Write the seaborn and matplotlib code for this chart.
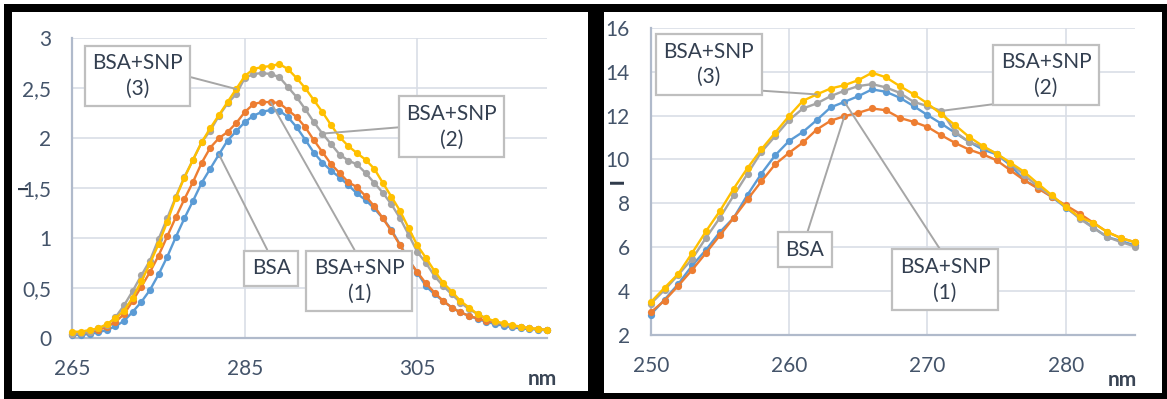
import numpy as np
import pandas as pd
import matplotlib
matplotlib.use("Agg")
import matplotlib.pyplot as plt
from matplotlib.patches import Rectangle
import seaborn as sns

# ---------------- data ----------------
wl_left = list(range(265, 321))
bsa_left = [0.033, 0.033, 0.043, 0.059, 0.083, 0.119, 0.175, 0.264, 0.363, 0.482,
            0.638, 0.813, 1.011, 1.199, 1.374, 1.553, 1.695, 1.837, 1.976, 2.068,
            2.16, 2.223, 2.263, 2.28, 2.275, 2.21, 2.11, 1.985, 1.855, 1.755,
            1.675, 1.606, 1.53, 1.447, 1.381, 1.298, 1.199, 1.084, 0.935, 0.786,
            0.654, 0.522, 0.439, 0.373, 0.307, 0.258, 0.225, 0.192, 0.165, 0.142,
            0.126, 0.109, 0.099, 0.093, 0.086, 0.079]
snp1_left = [0.043, 0.05, 0.06, 0.086, 0.109, 0.165, 0.241, 0.373, 0.515, 0.661,
             0.826, 1.017, 1.209, 1.391, 1.563, 1.753, 1.905, 2.0, 2.06, 2.15,
             2.26, 2.34, 2.36, 2.36, 2.35, 2.28, 2.21, 2.11, 1.98, 1.86,
             1.74, 1.65, 1.56, 1.51, 1.42, 1.32, 1.20, 1.07, 0.93, 0.78,
             0.661, 0.548, 0.456, 0.373, 0.307, 0.258, 0.225, 0.198, 0.175, 0.159,
             0.142, 0.126, 0.109, 0.099, 0.093, 0.083]
snp2_left = [0.043, 0.05, 0.066, 0.099, 0.132, 0.208, 0.330, 0.472, 0.628, 0.776,
             0.991, 1.199, 1.414, 1.612, 1.784, 1.959, 2.075, 2.223, 2.346, 2.44,
             2.60, 2.64, 2.65, 2.64, 2.61, 2.51, 2.41, 2.29, 2.16, 2.045,
             1.94, 1.835, 1.775, 1.738, 1.652, 1.553, 1.454, 1.338, 1.199, 1.034,
             0.862, 0.753, 0.621, 0.522, 0.439, 0.357, 0.291, 0.241, 0.198, 0.165,
             0.142, 0.126, 0.109, 0.099, 0.089, 0.083]
snp3_left = [0.066, 0.066, 0.083, 0.099, 0.142, 0.198, 0.277, 0.406, 0.568, 0.747,
             0.942, 1.163, 1.404, 1.606, 1.784, 1.959, 2.10, 2.23, 2.36, 2.49,
             2.62, 2.69, 2.71, 2.72, 2.74, 2.69, 2.60, 2.50, 2.38, 2.26,
             2.13, 2.01, 1.92, 1.85, 1.784, 1.695, 1.553, 1.414, 1.272, 1.10,
             0.928, 0.803, 0.671, 0.555, 0.466, 0.373, 0.307, 0.241, 0.198, 0.172,
             0.149, 0.132, 0.116, 0.102, 0.093, 0.083]

wl_right = list(range(250, 286))
bsa_right = [3.03, 3.57, 4.25, 4.97, 5.74, 6.54, 7.34, 8.18, 9.00, 9.78,
             10.30, 10.77, 11.36, 11.76, 11.97, 12.12, 12.32, 12.24, 11.89, 11.71,
             11.48, 11.10, 10.75, 10.45, 10.23, 9.96, 9.50, 9.05, 8.67, 8.29,
             7.91, 7.53, 7.11, 6.69, 6.41, 6.23]
snp1_right = [2.93, 3.61, 4.33, 5.17, 5.88, 6.69, 7.34, 8.39, 9.35, 10.19,
              10.84, 11.25, 11.79, 12.37, 12.62, 12.88, 13.19, 13.08, 12.81, 12.43,
              12.02, 11.63, 11.21, 10.80, 10.45, 10.23, 9.73, 9.05, 8.71, 8.29,
              7.80, 7.34, 6.89, 6.46, 6.28, 6.08]
snp2_right = [3.42, 4.05, 4.75, 5.47, 6.43, 7.34, 8.36, 9.35, 10.34, 11.06,
              11.79, 12.32, 12.55, 12.88, 13.13, 13.34, 13.43, 13.28, 13.03, 12.62,
              12.43, 12.21, 11.25, 10.80, 10.57, 10.26, 9.81, 9.28, 8.77, 8.32,
              7.83, 7.30, 6.87, 6.46, 6.23, 6.03]
snp3_right = [3.49, 4.15, 4.79, 5.74, 6.73, 7.65, 8.67, 9.61, 10.46, 11.22,
              11.98, 12.67, 12.96, 13.23, 13.38, 13.61, 13.95, 13.74, 13.34, 12.97,
              12.55, 12.06, 11.56, 11.03, 10.61, 10.26, 9.85, 9.43, 8.89, 8.36,
              7.83, 7.37, 7.10, 6.69, 6.41, 6.23]

left_xticks = [265, 285, 305]
left_yticks = [0, 0.5, 1, 1.5, 2, 2.5, 3]
left_yticklabels = ["0", "0,5", "1", "1,5", "2", "2,5", "3"]
right_xticks = [250, 260, 270, 280]
right_yticks = [2, 4, 6, 8, 10, 12, 14, 16]
right_yticklabels = ["2", "4", "6", "8", "10", "12", "14", "16"]

label_bsa = "BSA"
label_1 = "BSA+SNP\n(1)"
label_2 = "BSA+SNP\n(2)"
label_3 = "BSA+SNP\n(3)"
x_unit = "nm"
y_title = "I"

# ---------------- style ----------------
sns.set_theme(style="white")
plt.rcParams["font.family"] = ["Lato", "DejaVu Sans"]

C_BLUE = "#5B9BD5"
C_ORANGE = "#ED7D31"
C_GRAY = "#A5A5A5"
C_YELLOW = "#FFC000"
TICK_C = "#44546A"
BOX_TXT = "#333F50"
GRID_C = "#D9DEE6"
SPINE_C = "#B0BACB"

W, H = 1167, 399
fig = plt.figure(figsize=(W / 100, H / 100), dpi=100, facecolor="white")

# black frames with white panels (drawn beneath the axes)
fig.patches.append(Rectangle((4 / W, 0), (W - 4) / W, (H - 4) / H, transform=fig.transFigure,
                             facecolor="black", edgecolor="none", zorder=-10))
fig.patches.append(Rectangle((12 / W, 1 - 391 / H), 576 / W, 379 / H, transform=fig.transFigure,
                             facecolor="white", edgecolor="none", zorder=-9))
fig.patches.append(Rectangle((604 / W, 1 - 393 / H), 558 / W, 381 / H, transform=fig.transFigure,
                             facecolor="white", edgecolor="none", zorder=-9))

axL = fig.add_axes([72.3 / W, 1 - 338.3 / H, 474.4 / W, 300.3 / H])
axR = fig.add_axes([650.7 / W, 1 - 335 / H, 484.3 / W, 307.3 / H])
axL_box = (72.3, 38.0, 546.7, 338.3)
axR_box = (650.7, 27.7, 1135.0, 335.0)


def to_ax(box, px, py):
    x0, y0, x1, y1 = box
    return ((px - x0) / (x1 - x0), (y1 - py) / (y1 - y0))


def draw_series(ax, x, series):
    for vals, col in series:
        sns.lineplot(x=x, y=vals, ax=ax, color=col, linewidth=1.7, marker="o",
                     markersize=5.2, markeredgewidth=0, clip_on=False, zorder=3)


draw_series(axL, wl_left, [(bsa_left, C_BLUE), (snp1_left, C_ORANGE),
                           (snp2_left, C_GRAY), (snp3_left, C_YELLOW)])
draw_series(axR, wl_right, [(snp1_right, C_BLUE), (bsa_right, C_ORANGE),
                            (snp2_right, C_GRAY), (snp3_right, C_YELLOW)])


def style_axis(ax, xlim, ylim, xt, yt, ytl, box, ylab_px):
    ax.set_facecolor("none")
    ax.set_xlim(*xlim)
    ax.set_ylim(*ylim)
    ax.set_xticks(xt)
    ax.set_xticklabels([str(v) for v in xt])
    ax.set_yticks(yt)
    ax.set_yticklabels(ytl)
    ax.grid(True, color=GRID_C, linewidth=1.2, zorder=0)
    ax.set_axisbelow(True)
    for s in ["top", "right"]:
        ax.spines[s].set_visible(False)
    for s in ["left", "bottom"]:
        ax.spines[s].set_color(SPINE_C)
        ax.spines[s].set_linewidth(1.6)
    ax.tick_params(axis="x", length=0, pad=15, labelsize=15, labelcolor=TICK_C)
    ax.tick_params(axis="y", length=0, pad=15, labelsize=15, labelcolor=TICK_C)
    ax.set_xlabel("")
    ax.set_ylabel(y_title, rotation=90, fontsize=ylab_px[2], fontweight="heavy",
                  color="#2F3A4A", va="center", ha="center")
    lx, ly = to_ax(box, ylab_px[0], ylab_px[1])
    ax.yaxis.set_label_coords(lx, ly)


style_axis(axL, (265, 320), (0, 3), left_xticks, left_yticks, left_yticklabels, axL_box, (24, 188, 9))
style_axis(axR, (250, 285), (2, 16), right_xticks, right_yticks, right_yticklabels, axR_box, (618.5, 181, 13))

fig.text(542.7 / W, 1 - 379 / H, x_unit, fontsize=15, fontweight="bold", color="#3A4555",
         ha="center", va="center")
fig.text(1122 / W, 1 - 380.5 / H, x_unit, fontsize=15, fontweight="bold", color="#3A4555",
         ha="center", va="center")


def callout(ax, box, text, xdata, ydata, idx, cpx, relpos):
    tx, ty = to_ax(box, cpx[0], cpx[1])
    ax.annotate(text, xy=(xdata[idx], ydata[idx]), xycoords="data",
                xytext=(tx, ty), textcoords="axes fraction",
                ha="center", va="center", fontsize=15, color=BOX_TXT, linespacing=1.35,
                bbox=dict(boxstyle="square,pad=0.36", facecolor="white", edgecolor="#BFBFBF", linewidth=1.6),
                arrowprops=dict(arrowstyle="-", color="#A6A6A6", linewidth=1.4,
                                relpos=relpos, shrinkA=0, shrinkB=0),
                zorder=6, annotation_clip=False)


callout(axL, axL_box, label_3, wl_left, snp3_left, 19, (137.5, 76), (1.0, 0.52))
callout(axL, axL_box, label_2, wl_left, snp2_left, 29, (451.6, 126.7), (0.0, 0.5))
callout(axL, axL_box, label_bsa, wl_left, bsa_left, 17, (271.4, 268), (0.5, 1.0))
callout(axL, axL_box, label_1, wl_left, snp1_left, 23, (359.2, 281), (0.5, 1.0))

callout(axR, axR_box, label_3, wl_right, snp3_right, 12, (708.9, 64.3), (0.5, 0.0))
callout(axR, axR_box, label_2, wl_right, snp2_right, 21, (1046, 75), (0.47, 0.0))
callout(axR, axR_box, label_bsa, wl_right, bsa_right, 14, (805, 249.7), (0.5, 1.0))
callout(axR, axR_box, label_1, wl_right, snp1_right, 14, (945, 279.7), (0.5, 1.0))

fig.savefig("out.png", dpi=100, facecolor=fig.get_facecolor())
